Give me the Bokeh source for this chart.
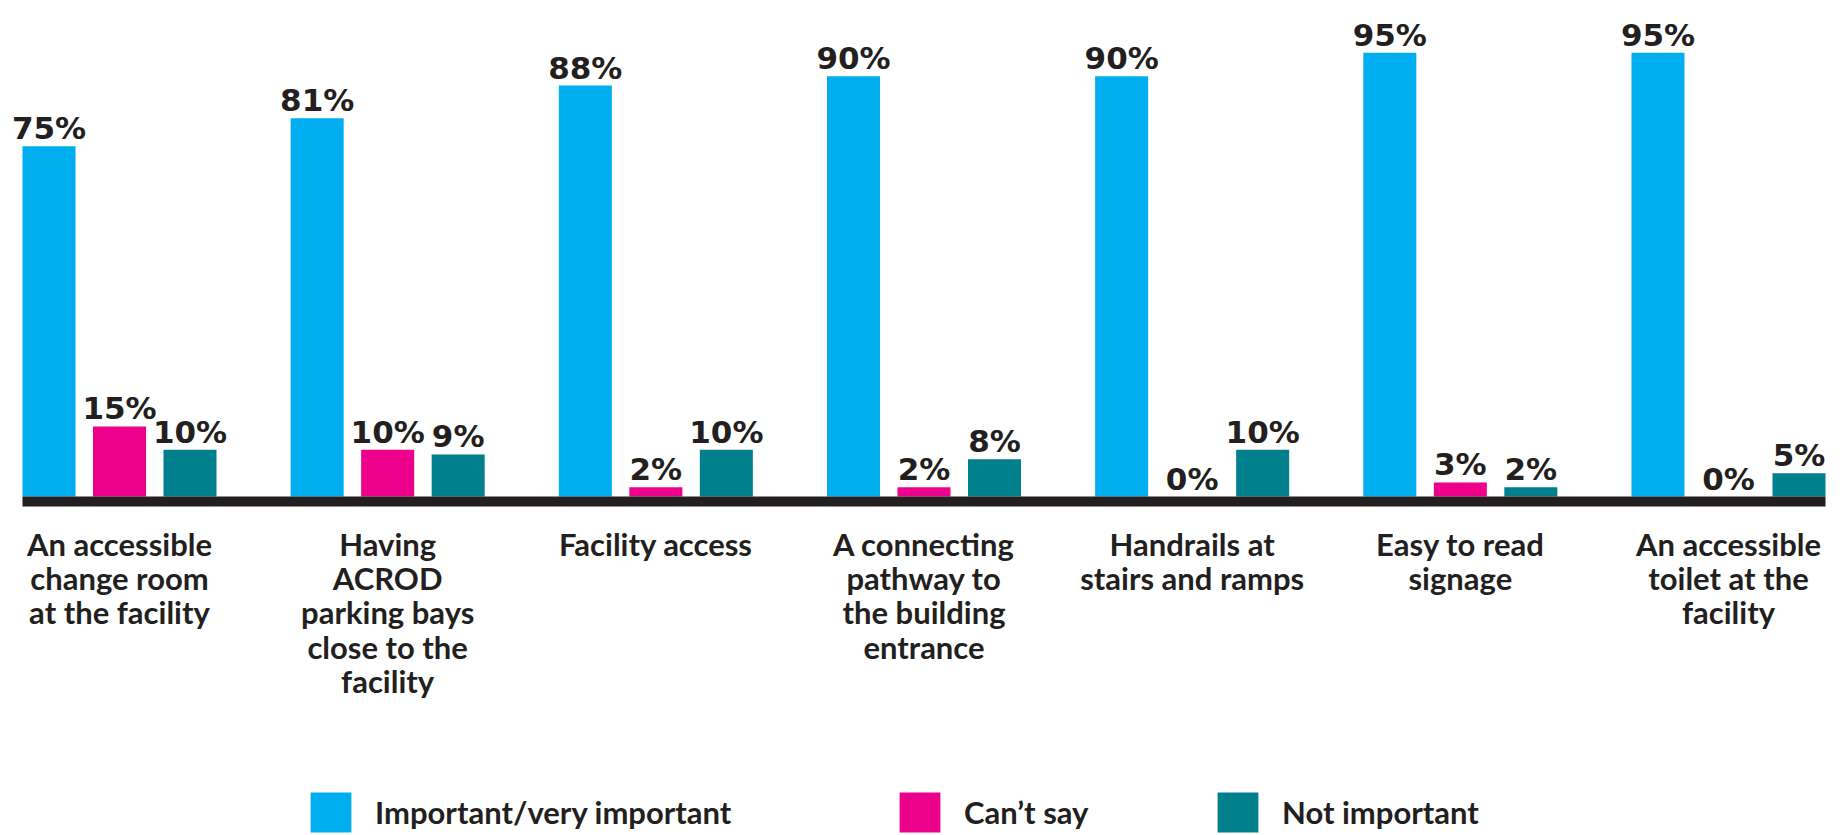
from bokeh.plotting import figure
from bokeh.models import FactorRange, Range1d, ColumnDataSource, Legend, LegendItem
from bokeh.core.properties import value
from bokeh.embed import file_html
from bokeh.resources import INLINE

# ---- data ----
categories = [
    "An accessible\nchange room\nat the facility",
    "Having\nACROD\nparking bays\nclose to the\nfacility",
    "Facility access",
    "A connecting\npathway to\nthe building\nentrance",
    "Handrails at\nstairs and ramps",
    "Easy to read\nsignage",
    "An accessible\ntoilet at the\nfacility",
]
series = ["Important/very important", "Can\u2019t say", "Not important"]
important = [75, 81, 88, 90, 90, 95, 95]
cant_say = [15, 10, 2, 2, 0, 3, 0]
not_important = [10, 9, 10, 8, 10, 2, 5]

colors = ["#00AEEF", "#EC008C", "#007F8C"]
TEXT = "#231F20"

W, H = 1847, 835
PPU = 4.67            # pixels per percent
BASE_PX = 496         # baseline distance from frame top
y_end = BASE_PX / PPU
y_start = y_end - H / PPU

factors = [(c, s) for c in categories for s in series]
x_range = FactorRange(*factors, factor_padding=0.0, group_padding=0.8037,
                      range_padding=0.188, range_padding_units="absolute")

p = figure(x_range=x_range, y_range=Range1d(y_start, y_end), width=W, height=H,
           output_backend="svg", toolbar_location=None, min_border=0,
           x_axis_location=None, y_axis_location=None, outline_line_color=None)
p.xgrid.visible = False
p.ygrid.visible = False

renderers = []
for s, vals, col in zip(series, [important, cant_say, not_important], colors):
    src = ColumnDataSource(dict(x=[(c, s) for c in categories], top=vals,
                                label=[f"{v}%" for v in vals]))
    r = p.vbar(x="x", top="top", bottom=0, width=0.752, source=src,
               fill_color=col, line_color=None)
    renderers.append(r)
    p.text(x="x", y="top", text="label", source=src, text_align="center",
           text_baseline="bottom", y_offset=0, text_color=TEXT,
           text_font=value("DejaVu Sans"), text_font_style="bold",
           text_font_size="31px")

# baseline bar
p.quad(left=[(categories[0], series[0], -0.376)],
       right=[(categories[-1], series[-1], 0.376)],
       top=[0], bottom=[-10 / PPU], fill_color=TEXT, line_color=None)

# category labels
lsrc = ColumnDataSource(dict(x=[(c, series[1]) for c in categories],
                             y=[0] * len(categories), text=categories))
p.text(x="x", y="y", text="text", source=lsrc, text_align="center",
       text_baseline="top", y_offset=28, text_color=TEXT,
       text_font=value("Lato"), text_font_style="bold",
       text_font_size="31px", text_line_height=0.905)

# legends, one per item
leg_x = [305, 894, 1212]
for r, s, lx in zip(renderers, series, leg_x):
    lg = Legend(items=[LegendItem(label=s, renderers=[r])], location=(lx, -2),
                orientation="horizontal", padding=0, margin=0, spacing=0,
                border_line_color=None, background_fill_alpha=0,
                glyph_width=51, glyph_height=50, label_height=50,
                label_standoff=19, label_text_font="Lato",
                label_text_font_style="bold", label_text_font_size="31px",
                label_text_color=TEXT)
    p.add_layout(lg)

open("out.html", "w").write(file_html(p, INLINE))
